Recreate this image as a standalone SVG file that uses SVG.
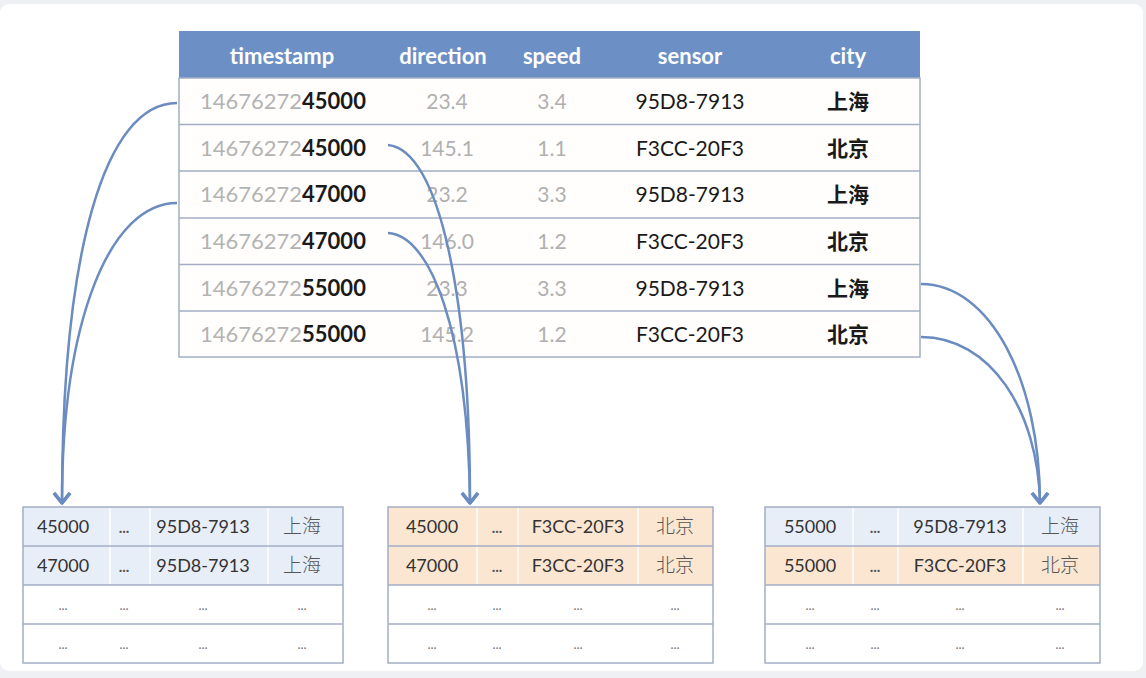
<svg xmlns="http://www.w3.org/2000/svg" width="1146" height="678" viewBox="0 0 1146 678">
<defs>
<style>
.hd{font-family:Lato,"Liberation Sans",sans-serif;font-size:22px;font-weight:bold;fill:#ffffff;text-anchor:middle}
.ts{font-family:Lato,"Liberation Sans",sans-serif;font-size:22px;fill:#b3b3b3}
.ts tspan{fill:#1a1a1a;font-weight:bold}
.gv{font-family:Lato,"Liberation Sans",sans-serif;font-size:21px;fill:#b0b0b0;text-anchor:middle}
.sv{font-family:Lato,"Liberation Sans",sans-serif;font-size:21px;fill:#1a1a1a;text-anchor:middle}
.cv{font-family:"Noto Sans CJK SC",sans-serif;font-size:21px;font-weight:bold;fill:#1a1a1a;text-anchor:middle}
.bv{font-family:Lato,"Liberation Sans",sans-serif;font-size:18px;fill:#333333;text-anchor:middle}
.bc{font-family:"Noto Sans CJK SC",sans-serif;font-size:19px;font-weight:300;fill:#555555;text-anchor:middle}
.dd{font-family:Lato,"Liberation Sans",sans-serif;font-size:15px;font-weight:bold;fill:#555555;text-anchor:middle}
.dt{font-family:Lato,"Liberation Sans",sans-serif;font-size:13px;fill:#777777;text-anchor:middle}
.grid{stroke:#a3aec4;stroke-width:1.5;fill:none}
.sep{stroke:#ffffff;stroke-opacity:0.7;stroke-width:2}
.arr{fill:none;stroke:#6b8cc0;stroke-width:2.5}
</style>
<marker id="ah2" viewBox="0 0 20 20" refX="10" refY="17" markerWidth="20" markerHeight="20" markerUnits="userSpaceOnUse" orient="0">
<path d="M2,7 L10,17 L18,7" fill="none" stroke="#6b8cc0" stroke-width="3.5" stroke-linejoin="round"/>
</marker>
</defs>
<rect x="0" y="0" width="1146" height="678" fill="#eef0f4"/>
<rect x="0" y="4" width="1143" height="667" rx="9" fill="#ffffff"/>

<g id="main-table">
<rect x="179" y="78" width="741" height="279" fill="#fffefc"/>
<rect x="179" y="31" width="741" height="47" fill="#6c8fc5"/>
<text class="hd" x="282" y="64">timestamp</text>
<text class="hd" x="443" y="64">direction</text>
<text class="hd" x="552" y="64">speed</text>
<text class="hd" x="690" y="64">sensor</text>
<text class="hd" x="848" y="64">city</text>
<g class="grid">
<rect x="179" y="78" width="741" height="279"/>
<line x1="179" y1="124.5" x2="920" y2="124.5"/>
<line x1="179" y1="171" x2="920" y2="171"/>
<line x1="179" y1="218" x2="920" y2="218"/>
<line x1="179" y1="264.5" x2="920" y2="264.5"/>
<line x1="179" y1="311" x2="920" y2="311"/>
</g>
<text class="ts" x="200" y="109">14676272<tspan>45000</tspan></text>
<text class="ts" x="200" y="156">14676272<tspan>45000</tspan></text>
<text class="ts" x="200" y="202">14676272<tspan>47000</tspan></text>
<text class="ts" x="200" y="249">14676272<tspan>47000</tspan></text>
<text class="ts" x="200" y="296">14676272<tspan>55000</tspan></text>
<text class="ts" x="200" y="342">14676272<tspan>55000</tspan></text>
<text class="gv" x="447" y="109">23.4</text>
<text class="gv" x="447" y="156">145.1</text>
<text class="gv" x="447" y="202">23.2</text>
<text class="gv" x="447" y="249">146.0</text>
<text class="gv" x="447" y="296">23.3</text>
<text class="gv" x="447" y="342">145.2</text>
<text class="gv" x="552" y="109">3.4</text>
<text class="gv" x="552" y="156">1.1</text>
<text class="gv" x="552" y="202">3.3</text>
<text class="gv" x="552" y="249">1.2</text>
<text class="gv" x="552" y="296">3.3</text>
<text class="gv" x="552" y="342">1.2</text>
<text class="sv" x="690" y="109">95D8-7913</text>
<text class="sv" x="690" y="156">F3CC-20F3</text>
<text class="sv" x="690" y="202">95D8-7913</text>
<text class="sv" x="690" y="249">F3CC-20F3</text>
<text class="sv" x="690" y="296">95D8-7913</text>
<text class="sv" x="690" y="342">F3CC-20F3</text>
<text class="cv" x="848" y="109">上海</text>
<text class="cv" x="848" y="156">北京</text>
<text class="cv" x="848" y="202">上海</text>
<text class="cv" x="848" y="249">北京</text>
<text class="cv" x="848" y="296">上海</text>
<text class="cv" x="848" y="342">北京</text>
</g>

<g id="table-shanghai">
<rect x="23" y="507" width="320" height="78" fill="#e8eef8"/>
<rect x="23" y="585" width="320" height="78" fill="#ffffff"/>
<g class="sep"><line x1="110" y1="508" x2="110" y2="584"/><line x1="150" y1="508" x2="150" y2="584"/><line x1="268" y1="508" x2="268" y2="584"/></g>
<g class="grid"><rect x="23" y="507" width="320" height="156"/><line x1="23" y1="546" x2="343" y2="546"/><line x1="23" y1="585" x2="343" y2="585"/><line x1="23" y1="624" x2="343" y2="624"/></g>
<text class="bv" x="63" y="533">45000</text><text class="dd" x="124" y="533">...</text><text class="bv" x="203" y="533">95D8-7913</text><text class="bc" x="302" y="533">上海</text>
<text class="bv" x="63" y="572">47000</text><text class="dd" x="124" y="572">...</text><text class="bv" x="203" y="572">95D8-7913</text><text class="bc" x="302" y="572">上海</text>
<text class="dt" x="63" y="610">...</text><text class="dt" x="124" y="610">...</text><text class="dt" x="203" y="610">...</text><text class="dt" x="302" y="610">...</text>
<text class="dt" x="63" y="649">...</text><text class="dt" x="124" y="649">...</text><text class="dt" x="203" y="649">...</text><text class="dt" x="302" y="649">...</text>
</g>

<g id="table-beijing">
<rect x="388" y="507" width="325" height="78" fill="#fbe6d2"/>
<rect x="388" y="585" width="325" height="78" fill="#ffffff"/>
<g class="sep"><line x1="477" y1="508" x2="477" y2="584"/><line x1="518" y1="508" x2="518" y2="584"/><line x1="638" y1="508" x2="638" y2="584"/></g>
<g class="grid"><rect x="388" y="507" width="325" height="156"/><line x1="388" y1="546" x2="713" y2="546"/><line x1="388" y1="585" x2="713" y2="585"/><line x1="388" y1="624" x2="713" y2="624"/></g>
<text class="bv" x="432" y="533">45000</text><text class="dd" x="497" y="533">...</text><text class="bv" x="578" y="533">F3CC-20F3</text><text class="bc" x="675" y="533">北京</text>
<text class="bv" x="432" y="572">47000</text><text class="dd" x="497" y="572">...</text><text class="bv" x="578" y="572">F3CC-20F3</text><text class="bc" x="675" y="572">北京</text>
<text class="dt" x="432" y="610">...</text><text class="dt" x="497" y="610">...</text><text class="dt" x="578" y="610">...</text><text class="dt" x="675" y="610">...</text>
<text class="dt" x="432" y="649">...</text><text class="dt" x="497" y="649">...</text><text class="dt" x="578" y="649">...</text><text class="dt" x="675" y="649">...</text>
</g>

<g id="table-55000">
<rect x="765" y="507" width="335" height="39" fill="#e8eef8"/>
<rect x="765" y="546" width="335" height="39" fill="#fbe6d2"/>
<rect x="765" y="585" width="335" height="78" fill="#ffffff"/>
<g class="sep"><line x1="853" y1="508" x2="853" y2="584"/><line x1="898" y1="508" x2="898" y2="584"/><line x1="1023" y1="508" x2="1023" y2="584"/></g>
<g class="grid"><rect x="765" y="507" width="335" height="156"/><line x1="765" y1="546" x2="1100" y2="546"/><line x1="765" y1="585" x2="1100" y2="585"/><line x1="765" y1="624" x2="1100" y2="624"/></g>
<text class="bv" x="810" y="533">55000</text><text class="dd" x="875" y="533">...</text><text class="bv" x="960" y="533">95D8-7913</text><text class="bc" x="1060" y="533">上海</text>
<text class="bv" x="810" y="572">55000</text><text class="dd" x="875" y="572">...</text><text class="bv" x="960" y="572">F3CC-20F3</text><text class="bc" x="1060" y="572">北京</text>
<text class="dt" x="810" y="610">...</text><text class="dt" x="875" y="610">...</text><text class="dt" x="960" y="610">...</text><text class="dt" x="1060" y="610">...</text>
<text class="dt" x="810" y="649">...</text><text class="dt" x="875" y="649">...</text><text class="dt" x="960" y="649">...</text><text class="dt" x="1060" y="649">...</text>
</g>

<g id="connectors" class="arr">
<path d="M177,103 C105,103 62,250 62,503" marker-end="url(#ah2)"/>
<path d="M177,203 C110,203 62,320 62,503" marker-end="url(#ah2)"/>
<path d="M388,145 C440,150 470,300 470,503" marker-end="url(#ah2)"/>
<path d="M388,233 C430,235 468,330 470,503" marker-end="url(#ah2)"/>
<path d="M921,284 C990,284 1040,380 1040,503" marker-end="url(#ah2)"/>
<path d="M921,337 C990,337 1038,410 1040,503" marker-end="url(#ah2)"/>
</g>
</svg>
